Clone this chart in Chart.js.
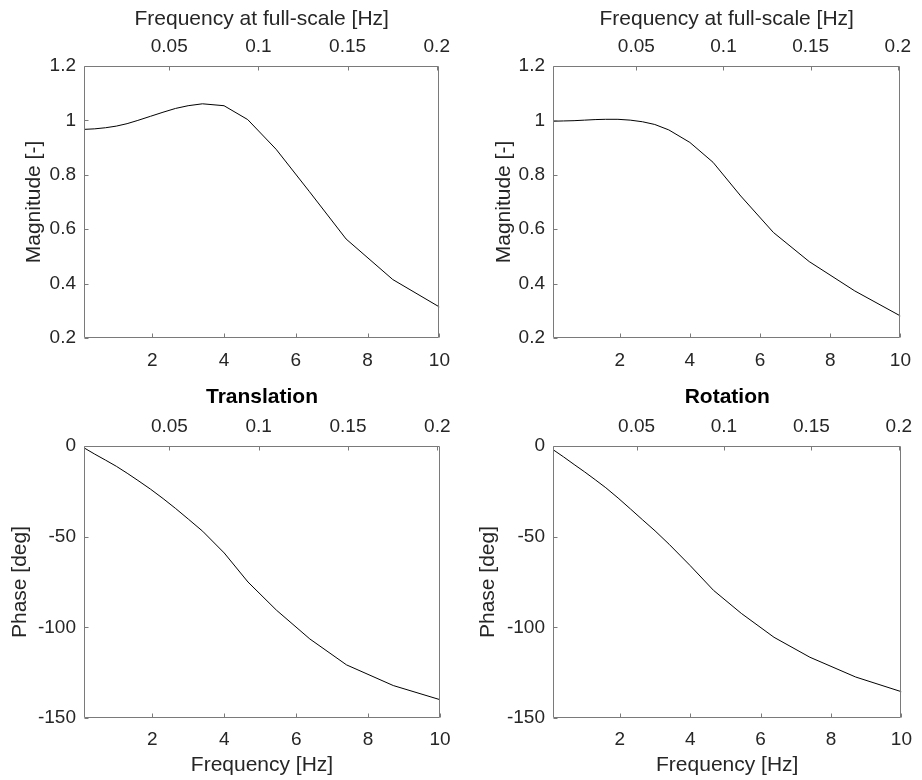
<!DOCTYPE html>
<html>
<head>
<meta charset="utf-8">
<script src="https://cdn.jsdelivr.net/npm/chart.js@4.4.1/dist/chart.umd.min.js"></script>
<style>
html,body{margin:0;padding:0;background:#ffffff;}
#wrap{position:relative;width:922px;height:780px;background:#ffffff;overflow:hidden;}
canvas{position:absolute;}
</style>
</head>
<body>
<div id="wrap">
<canvas id="cTL" width="461" height="380" style="left:0px;top:0px"></canvas>
<canvas id="cTR" width="461" height="380" style="left:461px;top:0px"></canvas>
<canvas id="cBL" width="461" height="400" style="left:0px;top:380px"></canvas>
<canvas id="cBR" width="461" height="400" style="left:461px;top:380px"></canvas>
</div>
<script>
// ---------- data ----------
const freqHz = [0.1, 0.4, 0.7, 1.0, 1.3, 1.6, 1.95, 2.3, 2.65, 3.0, 3.4, 4.0, 4.66, 5.45, 6.38, 7.4, 8.7, 10];

const magTranslation = [0.967, 0.969, 0.973, 0.979, 0.988, 1.000, 1.015, 1.030, 1.044, 1.054, 1.061, 1.054, 1.003, 0.894, 0.738, 0.564, 0.415, 0.314];
const magRotation    = [0.997, 0.998, 0.999, 1.001, 1.003, 1.004, 1.004, 1.001, 0.995, 0.985, 0.965, 0.919, 0.846, 0.722, 0.588, 0.481, 0.373, 0.281];
const phaseTranslation = [-1.0, -4.5, -7.8, -11.2, -15.0, -19.0, -23.8, -29.0, -34.5, -40.3, -47.0, -59.0, -75.0, -90.5, -106.4, -120.7, -132.1, -139.9];
const phaseRotation    = [-2.0, -6.0, -10.2, -14.3, -18.6, -23.0, -28.7, -34.7, -40.8, -46.8, -54.2, -66.0, -79.6, -92.3, -105.5, -116.5, -127.4, -135.5];

const bottomTicks = [2, 4, 6, 8, 10];
const topTicks = [0.05, 0.1, 0.15, 0.2];
const magTicks = [0.2, 0.4, 0.6, 0.8, 1, 1.2];
const phaseTicks = [-150, -100, -50, 0];

const freqRange = [0.1, 10];
const fullScaleRange = [0.0022, 0.2015];
const magRange = [0.2, 1.2];
const phaseRange = [-150, 0];

// ---------- styling ----------
const FONT = "'Liberation Sans', Arial, Helvetica, sans-serif";
const TEXT = '#262626';
const AXIS = '#7a7a7a';
const TICKLEN = 4;

const framePlugin = {
  id: 'frame',
  afterDatasetsDraw(chart) {
    const ctx = chart.ctx, a = chart.chartArea;
    const L = Math.round(a.left) + 0.5, R = Math.round(a.right) - 0.5;
    const T = Math.round(a.top) + 0.5, B = Math.round(a.bottom) - 0.5;
    ctx.save();
    ctx.strokeStyle = AXIS;
    ctx.lineWidth = 1;
    ctx.beginPath();
    ctx.rect(L, T, R - L, B - T);
    const sx = chart.scales.x, sx2 = chart.scales.x2, sy = chart.scales.y;
    sx.ticks.forEach(t => {
      const p = Math.round(sx.getPixelForValue(t.value)) + 0.5;
      ctx.moveTo(p, B); ctx.lineTo(p, B - TICKLEN);
    });
    sx2.ticks.forEach(t => {
      const p = Math.round(sx2.getPixelForValue(t.value)) + 0.5;
      ctx.moveTo(p, T); ctx.lineTo(p, T + TICKLEN);
    });
    sy.ticks.forEach(t => {
      const p = Math.round(sy.getPixelForValue(t.value)) + 0.5;
      ctx.moveTo(L, p); ctx.lineTo(L + TICKLEN, p);
    });
    ctx.stroke();
    ctx.restore();
  }
};

function fixedTicks(arr) {
  return function (scale) { scale.ticks = arr.map(v => ({ value: v })); };
}

function makeChart(id, values, yRange, yTicks, yTitle, cfg) {
  const pts = freqHz.map((f, i) => ({ x: f, y: values[i] }));
  return new Chart(document.getElementById(id), {
    type: 'line',
    data: {
      datasets: [{
        data: pts,
        borderColor: '#000000',
        borderWidth: 1,
        pointRadius: 0,
        tension: 0,
        fill: false
      }]
    },
    options: {
      responsive: false,
      animation: false,
      events: [],
      layout: { padding: { left: 0, right: cfg.padRight, top: 0, bottom: 0 } },
      plugins: { legend: { display: false }, tooltip: { enabled: false }, title: { display: false } },
      scales: {
        x: {
          type: 'linear',
          position: 'bottom',
          min: freqRange[0], max: freqRange[1],
          afterBuildTicks: fixedTicks(bottomTicks),
          afterFit: s => { s.height = cfg.bottomH; },
          grid: { display: false, drawTicks: false },
          border: { display: false },
          ticks: {
            autoSkip: false, maxRotation: 0, minRotation: 0,
            padding: cfg.bottomTickPad, color: TEXT,
            font: { family: FONT, size: 19 },
            callback: v => String(v)
          },
          title: {
            display: !!cfg.bottomTitle, text: cfg.bottomTitle || '',
            color: TEXT, font: { family: FONT, size: 21 },
            padding: { top: 0, bottom: 2 }
          }
        },
        x2: {
          type: 'linear',
          position: 'top',
          min: fullScaleRange[0], max: fullScaleRange[1],
          afterBuildTicks: fixedTicks(topTicks),
          afterFit: s => { s.height = 66; },
          grid: { display: false, drawTicks: false },
          border: { display: false },
          ticks: {
            autoSkip: false, maxRotation: 0, minRotation: 0,
            padding: 8, color: TEXT,
            font: { family: FONT, size: 19 },
            callback: v => String(v)
          },
          title: {
            display: true, text: cfg.topTitle,
            color: cfg.topBold ? '#000000' : TEXT,
            font: { family: FONT, size: 21, weight: cfg.topBold ? 'bold' : 'normal' },
            padding: { top: cfg.topTitlePad, bottom: 0 }
          }
        },
        y: {
          type: 'linear',
          position: 'left',
          min: yRange[0], max: yRange[1],
          afterBuildTicks: fixedTicks(yTicks),
          afterFit: s => { s.width = cfg.leftW; },
          grid: { display: false, drawTicks: false },
          border: { display: false },
          ticks: {
            autoSkip: false, padding: 8, color: TEXT,
            font: { family: FONT, size: 19 },
            callback: v => String(v)
          },
          title: {
            display: true, text: yTitle, color: TEXT,
            font: { family: FONT, size: 21 },
            padding: { top: cfg.yTitlePad, bottom: 0 }
          }
        }
      }
    },
    plugins: [framePlugin]
  });
}

makeChart('cTL', magTranslation, magRange, magTicks, 'Magnitude [-]', {
  padRight: 21, leftW: 84, bottomH: 42, bottomTickPad: 11,
  topTitle: 'Frequency at full-scale [Hz]', topBold: false, topTitlePad: 7, yTitlePad: 22
});
makeChart('cTR', magRotation, magRange, magTicks, 'Magnitude [-]', {
  padRight: 12, leftW: 92, bottomH: 42, bottomTickPad: 11,
  topTitle: 'Frequency at full-scale [Hz]', topBold: false, topTitlePad: 7, yTitlePad: 31
});
makeChart('cBL', phaseTranslation, phaseRange, phaseTicks, 'Phase [deg]', {
  padRight: 21, leftW: 84, bottomH: 62, bottomTickPad: 10, bottomTitle: 'Frequency [Hz]',
  topTitle: 'Translation', topBold: true, topTitlePad: 5, yTitlePad: 8
});
makeChart('cBR', phaseRotation, phaseRange, phaseTicks, 'Phase [deg]', {
  padRight: 12, leftW: 92, bottomH: 62, bottomTickPad: 10, bottomTitle: 'Frequency [Hz]',
  topTitle: 'Rotation', topBold: true, topTitlePad: 5, yTitlePad: 15
});
</script>
</body>
</html>
